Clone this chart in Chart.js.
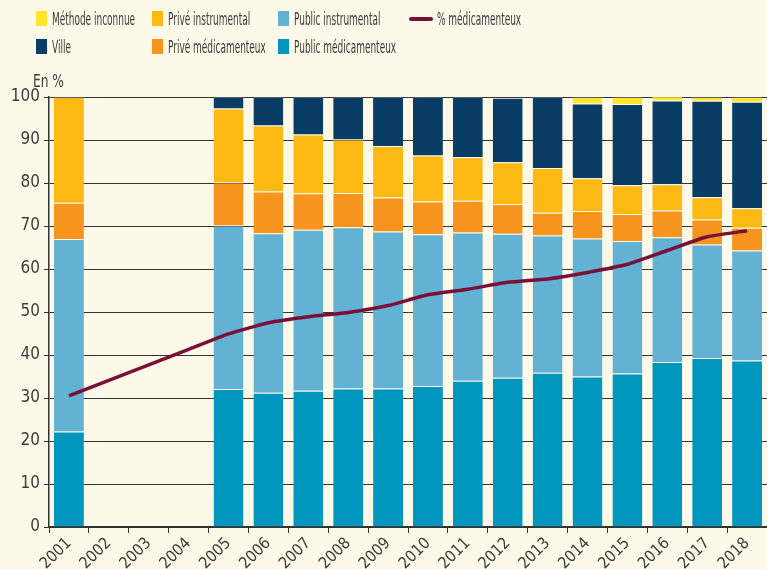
<!DOCTYPE html>
<html>
<head>
<meta charset="utf-8">
<script src="https://cdn.jsdelivr.net/npm/chart.js@4"></script>
<style>
	body { margin: 0; background: #fdf9e9; }
	#wrap { position: relative; width: 767px; height: 569px; }
	#cntx { position: absolute; left: 0; top: 0; }
	.lg { position: absolute; font-family: "DejaVu Sans Condensed", sans-serif; font-size: 18px; color: #3c3c3c; white-space: nowrap; line-height: 18px; transform-origin: 0 50%; }
	.sw { position: absolute; width: 11px; height: 15px; }
	.ln { position: absolute; width: 24px; height: 4px; border-radius: 2px; background: #7a1038; }
</style>
</head>
<body>
<div id="wrap">
	<canvas id="cntx" width="767" height="569"></canvas>
</div>
<script>
const years = ["2001", "2002", "2003", "2004", "2005", "2006", "2007", "2008", "2009",
	"2010", "2011", "2012", "2013", "2014", "2015", "2016", "2017", "2018"];

const public_med = [22.2, null, null, null, 32.1, 31.2, 31.7, 32.2, 32.2, 32.8, 34.0, 34.7, 35.9, 35.0, 35.7, 38.4, 39.3, 38.7];
const public_instr = [44.8, null, null, null, 38.0, 37.1, 37.4, 37.5, 36.5, 35.3, 34.5, 33.5, 31.9, 32.1, 30.8, 29.0, 26.4, 25.6];
const prive_med = [8.4, null, null, null, 10.0, 9.7, 8.5, 8.0, 7.9, 7.6, 7.4, 6.9, 5.3, 6.4, 6.3, 6.2, 5.8, 5.3];
const prive_instr = [24.6, null, null, null, 17.2, 15.4, 13.7, 12.4, 12.0, 10.7, 10.1, 9.7, 10.4, 7.6, 6.7, 6.1, 5.2, 4.5];
const ville = [0, null, null, null, 2.7, 6.6, 8.7, 9.9, 11.4, 13.6, 14.0, 15.0, 16.5, 17.4, 18.9, 19.5, 22.4, 24.8];
const inconnue = [0, null, null, null, 0, 0, 0, 0, 0, 0, 0, 0, 0, 1.5, 1.6, 1.0, 0.9, 1.1];
const pct_med = [30.5, 34.1, 37.7, 41.3, 44.9, 47.5, 48.9, 49.9, 51.5, 54.0, 55.3, 56.9, 57.7, 59.2, 61.1, 64.3, 67.5, 68.9];

const y_ticks = [0, 10, 20, 30, 40, 50, 60, 70, 80, 90, 100];

const font_family = '"DejaVu Sans Condensed", sans-serif';
const text_color = "#3c3c3c";

// legend in html, two rows like the original
const legend_items = [
	{ label: "Méthode inconnue", color: "#ffe52c", x: 36, y: 11 },
	{ label: "Privé instrumental", color: "#fdb913", x: 152, y: 11 },
	{ label: "Public instrumental", color: "#63b1d3", x: 278, y: 11 },
	{ label: "% médicamenteux", color: "#7a1038", x: 409, y: 11, line: true },
	{ label: "Ville", color: "#0a3d66", x: 36, y: 39 },
	{ label: "Privé médicamenteux", color: "#f7941e", x: 152, y: 39 },
	{ label: "Public médicamenteux", color: "#0096bd", x: 278, y: 39 },
];
const wrap = document.querySelector("#wrap");
let texts = [];
legend_items.forEach((it) => {
	let mark = document.createElement("div");
	if (it.line) {
		mark.className = "ln";
		mark.style.left = it.x + "px";
		mark.style.top = it.y + 6 + "px";
	} else {
		mark.className = "sw";
		mark.style.left = it.x + "px";
		mark.style.top = it.y + "px";
		mark.style.background = it.color;
	}
	wrap.appendChild(mark);
	let txt = document.createElement("div");
	txt.className = "lg";
	txt.textContent = it.label;
	txt.style.left = it.x + (it.line ? 28 : 16) + "px";
	txt.style.top = it.y - 1 + "px";
	wrap.appendChild(txt);
	texts.push(txt);
});
// the original font is a narrow one, squeeze ours to the same width
const squeeze = 83 / texts[0].offsetWidth;
texts.forEach((t) => { t.style.transform = "scaleX(" + squeeze + ")"; });

const unitLabel = {
	id: "unitLabel",
	afterDraw(chart) {
		const ctx = chart.ctx;
		ctx.save();
		ctx.font = "17px " + font_family;
		ctx.fillStyle = text_color;
		ctx.textAlign = "left";
		ctx.textBaseline = "bottom";
		ctx.scale(0.8, 1);
		ctx.fillText("En %", (chart.chartArea.left - 16) / 0.8, chart.chartArea.top - 6);
		ctx.restore();
	},
};

const barSet = (label, data, color) => ({
	type: "bar",
	label: label,
	data: data,
	backgroundColor: color,
	borderColor: "rgba(255,255,255,0.2)",
	borderWidth: { top: 1 },
	borderSkipped: false,
	barPercentage: 0.75,
	categoryPercentage: 1,
	stack: "bars",
	order: 1,
});

const myChart = new Chart(document.querySelector("#cntx"), {
	data: {
		labels: years,
		datasets: [
			{
				type: "line",
				label: "% médicamenteux",
				data: pct_med,
				borderColor: "#7a1038",
				borderWidth: 3.5,
				pointRadius: 0,
				tension: 0.15,
				stack: "line",
				order: 0,
			},
			barSet("Public médicamenteux", public_med, "#0096bd"),
			barSet("Public instrumental", public_instr, "#63b1d3"),
			barSet("Privé médicamenteux", prive_med, "#f7941e"),
			barSet("Privé instrumental", prive_instr, "#fdb913"),
			barSet("Ville", ville, "#0a3d66"),
			barSet("Méthode inconnue", inconnue, "#ffe52c"),
		],
	},
	options: {
		responsive: false,
		animation: false,
		layout: { padding: { top: 97, left: 0, right: 0, bottom: 0 } },
		plugins: {
			legend: { display: false },
			tooltip: { enabled: false },
		},
		scales: {
			x: {
				stacked: true,
				grid: { display: true, drawOnChartArea: false, color: "#333", tickLength: 6, offset: true },
				border: { color: "#333", width: 1.5 },
				ticks: {
					color: text_color,
					font: { family: font_family, size: 16 },
					minRotation: 45,
					maxRotation: 45,
					padding: 1,
				},
				afterFit: (s) => { s.height = 42; },
			},
			y: {
				stacked: true,
				min: 0,
				max: 100,
				afterBuildTicks: (s) => { s.ticks = y_ticks.map((v) => ({ value: v })); },
				grid: { color: "#333", lineWidth: 1, tickLength: 5 },
				border: { color: "#333", width: 1.5 },
				ticks: {
					color: text_color,
					font: { family: font_family, size: 17 },
					padding: 4,
				},
				afterFit: (s) => { s.width = 49; },
			},
		},
	},
	plugins: [unitLabel],
});
</script>
</body>
</html>
